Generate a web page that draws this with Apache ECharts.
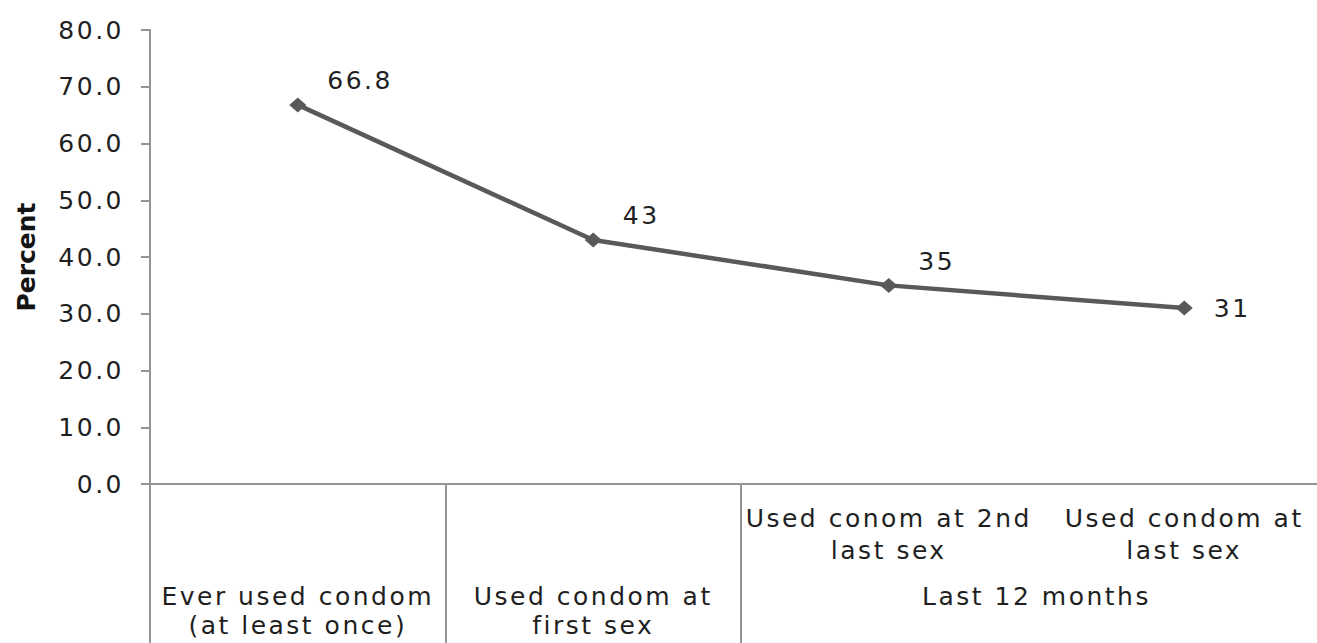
<!DOCTYPE html>
<html>
<head>
<meta charset="utf-8">
<script src="https://cdn.jsdelivr.net/npm/echarts@6/dist/echarts.min.js"></script>
<style>
  html, body { margin: 0; padding: 0; background: #ffffff; }
  #chart { width: 1317px; height: 643px; }
  /* wide, Excel-style lettering for the regular-weight labels */
  #chart svg text { letter-spacing: 2.5px; }
  #chart svg text[style*="bold"] { letter-spacing: 0; }
</style>
</head>
<body>
<div id="chart"></div>
<script>
// Condom use indicators (percent)
const categories = [
  'Ever used condom (at least once)',
  'Used condom at first sex',
  'Used conom at 2nd last sex',
  'Used condom at last sex'
];
const percentValues = [66.8, 43, 35, 31];

// first label row (only the two "Last 12 months" items carry text there)
const innerLabels = ['', '', 'Used conom at 2nd\nlast sex', 'Used condom at\nlast sex'];
// second label row and how many categories each group covers
const groupLabels = ['Ever used condom\n(at least once)', 'Used condom at\nfirst sex', 'Last 12 months'];
const groupSpans = [1, 1, 2];

const yMin = 0, yMax = 80, yStep = 10;
const yAxisTitle = 'Percent';

// group boundaries / centres in category units
const groupBounds = [0];
groupSpans.forEach(s => groupBounds.push(groupBounds[groupBounds.length - 1] + s));
const groupCenters = groupSpans.map((s, i) => groupBounds[i] + s / 2);

const FONT = 'DejaVu Sans';
const TEXT = '#1f1f1f';
const AXIS = '#949494';
const LINE = '#595959';

const chart = echarts.init(document.getElementById('chart'), null, { renderer: 'svg' });

chart.setOption({
  animation: false,
  backgroundColor: '#ffffff',
  grid: {
    left: 150, right: -15, top: 30, bottom: 159,
    containLabel: false, outerBoundsMode: 'none'
  },
  xAxis: [
    {
      type: 'category',
      data: categories,
      boundaryGap: true,
      position: 'bottom',
      axisLine: { show: true, lineStyle: { color: AXIS, width: 2 } },
      axisTick: { show: false },
      splitLine: { show: false },
      axisLabel: {
        interval: 0,
        margin: 18,
        fontFamily: FONT, fontSize: 25, lineHeight: 32, color: TEXT,
        align: 'center',
        formatter: (v, i) => innerLabels[i]
      }
    },
    {
      type: 'value',
      min: 0,
      max: categories.length,
      position: 'bottom',
      axisLine: { show: false },
      splitLine: { show: false },
      axisTick: {
        show: true,
        inside: false,
        length: 175,
        customValues: groupBounds.slice(0, -1),
        lineStyle: { color: AXIS, width: 2 }
      },
      axisLabel: {
        show: true,
        margin: 98,
        customValues: groupCenters,
        fontFamily: FONT, fontSize: 25, lineHeight: 29, color: TEXT,
        align: 'center',
        formatter: v => {
          const k = groupCenters.findIndex(c => Math.abs(c - v) < 1e-6);
          return k >= 0 ? groupLabels[k] : '';
        }
      }
    }
  ],
  yAxis: {
    type: 'value',
    min: yMin, max: yMax, interval: yStep,
    name: yAxisTitle,
    nameLocation: 'middle',
    nameGap: 111,
    nameRotate: 90,
    nameTextStyle: { fontFamily: FONT, fontSize: 25, fontWeight: 'bold', color: '#141414' },
    axisLine: { show: true, lineStyle: { color: AXIS, width: 2 } },
    axisTick: { show: true, inside: false, length: 9, lineStyle: { color: AXIS, width: 2 } },
    splitLine: { show: false },
    axisLabel: {
      margin: 26,
      fontFamily: FONT, fontSize: 25, color: TEXT,
      formatter: v => v.toFixed(1)
    }
  },
  series: [{
    type: 'line',
    xAxisIndex: 0,
    data: percentValues.map((v, i) =>
      i < percentValues.length - 1 ? { value: v, label: { offset: [0, -24] } } : v),
    lineStyle: { color: LINE, width: 4.5 },
    itemStyle: { color: LINE },
    symbol: 'diamond',
    symbolSize: [17, 15],
    label: {
      show: true,
      position: 'right',
      distance: 21,
      fontFamily: FONT, fontSize: 25, color: TEXT,
      formatter: p => String(p.value)
    }
  }]
});
</script>
</body>
</html>
